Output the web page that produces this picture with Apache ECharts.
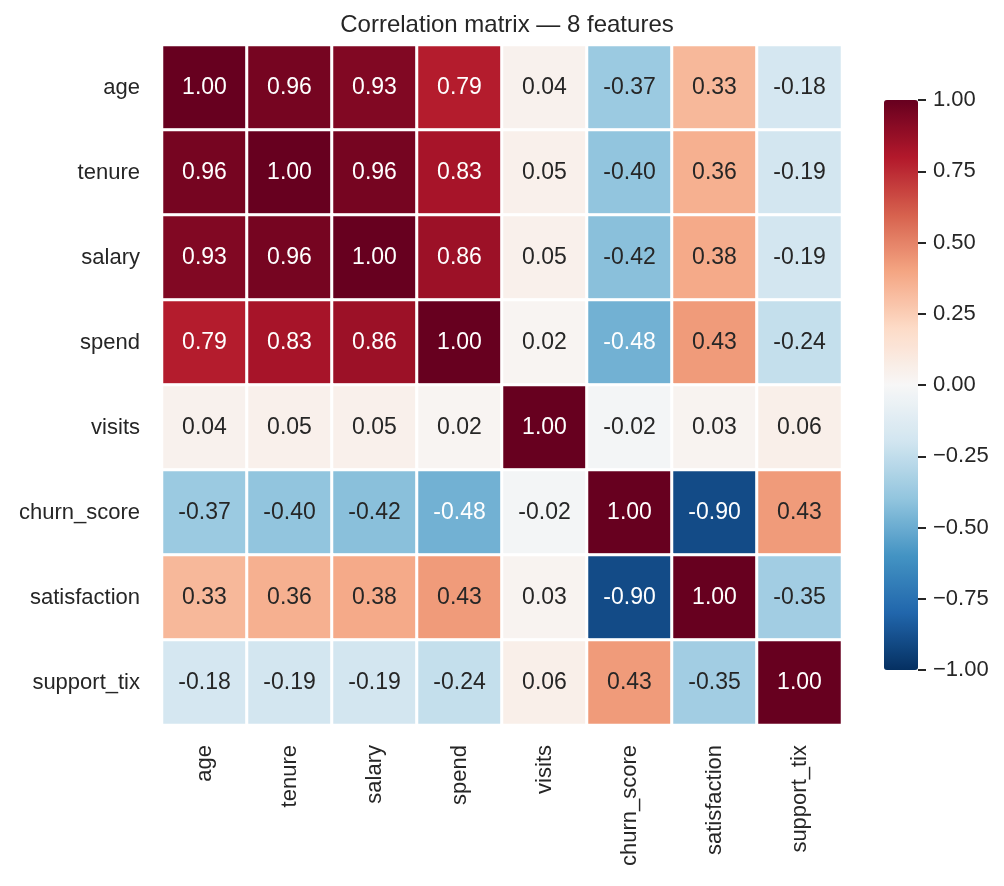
<!DOCTYPE html>
<html>
<head>
<meta charset="utf-8">
<script src="https://cdn.jsdelivr.net/npm/echarts@6/dist/echarts.min.js"></script>
<style>
  html, body { margin: 0; padding: 0; background: #fff; }
  #chart { width: 1004px; height: 886px; }
</style>
</head>
<body>
<div id="chart"></div>
<script>
// features, in row / column order
const features = ['age', 'tenure', 'salary', 'spend', 'visits', 'churn_score', 'satisfaction', 'support_tix'];

// correlation rows
const rowAge          = [1.00, 0.96, 0.93, 0.79, 0.04, -0.37, 0.33, -0.18];
const rowTenure       = [0.96, 1.00, 0.96, 0.83, 0.05, -0.40, 0.36, -0.19];
const rowSalary       = [0.93, 0.96, 1.00, 0.86, 0.05, -0.42, 0.38, -0.19];
const rowSpend        = [0.79, 0.83, 0.86, 1.00, 0.02, -0.48, 0.43, -0.24];
const rowVisits       = [0.04, 0.05, 0.05, 0.02, 1.00, -0.02, 0.03, 0.06];
const rowChurn        = [-0.37, -0.40, -0.42, -0.48, -0.02, 1.00, -0.90, 0.43];
const rowSatisfaction = [0.33, 0.36, 0.38, 0.43, 0.03, -0.90, 1.00, -0.35];
const rowSupport      = [-0.18, -0.19, -0.19, -0.24, 0.06, 0.43, -0.35, 1.00];

const colorbarTicks = [-1, -0.75, -0.5, -0.25, 0, 0.25, 0.5, 0.75, 1];

// RdBu_r
const rdbu = ['#053061', '#2166ac', '#4393c3', '#92c5de', '#d1e5f0', '#f7f7f7',
              '#fddbc7', '#f4a582', '#d6604d', '#b2182b', '#67001f'];

const rows = [rowAge, rowTenure, rowSalary, rowSpend, rowVisits, rowChurn, rowSatisfaction, rowSupport];
const cells = [];
rows.forEach((r, i) => r.forEach((v, j) => {
  cells.push({
    value: [j, i, v],
    label: { color: Math.abs(v) > 0.45 ? '#ffffff' : '#262626' }
  });
}));

const FONT = '"Liberation Sans", Arial, sans-serif';
const chart = echarts.init(document.getElementById('chart'));
chart.setOption({
  animation: false,
  backgroundColor: '#fff',
  textStyle: { fontFamily: FONT },
  title: {
    text: 'Correlation matrix — 8 features',
    left: 502, top: 8, textAlign: 'center',
    textStyle: { fontFamily: FONT, fontSize: 24, fontWeight: 'normal', color: '#262626' }
  },
  grid: [
    { left: 162, top: 45, width: 680, height: 680 },
    { left: 884, top: 100, width: 34, height: 570 }
  ],
  xAxis: [
    {
      gridIndex: 0, type: 'category', data: features, position: 'bottom',
      axisLine: { show: false }, axisTick: { show: false }, splitLine: { show: false },
      axisLabel: { rotate: 90, fontSize: 22, color: '#262626', margin: 20, fontFamily: FONT }
    },
    { gridIndex: 1, type: 'value', show: false, min: 0, max: 1 }
  ],
  yAxis: [
    {
      gridIndex: 0, type: 'category', data: features, inverse: true,
      axisLine: { show: false }, axisTick: { show: false }, splitLine: { show: false },
      axisLabel: { fontSize: 22, color: '#262626', margin: 22, fontFamily: FONT }
    },
    {
      gridIndex: 1, type: 'value', position: 'right', min: -1, max: 1, interval: 0.25,
      axisLine: { show: false, onZero: false }, splitLine: { show: false },
      axisTick: { show: true, length: 8, lineStyle: { color: '#262626', width: 2 } },
      axisLabel: {
        fontSize: 22, color: '#262626', margin: 15, fontFamily: FONT,
        customValues: colorbarTicks,
        formatter: v => v.toFixed(2).replace('-', '\u2212')
      }
    }
  ],
  visualMap: {
    type: 'continuous', min: -1, max: 1, calculable: false, hoverLink: false,
    seriesIndex: 0, orient: 'vertical',
    left: 884, top: 100, itemWidth: 34, itemHeight: 570, padding: 0,
    text: ['', ''], showLabel: false,
    inRange: { color: rdbu }
  },
  series: [{
    type: 'heatmap',
    xAxisIndex: 0, yAxisIndex: 0,
    data: cells,
    label: {
      show: true, fontSize: 23, fontFamily: FONT,
      formatter: p => p.value[2].toFixed(2)
    },
    itemStyle: { borderColor: '#ffffff', borderWidth: 3 },
    emphasis: { disabled: true }
  }]
});
</script>
</body>
</html>
